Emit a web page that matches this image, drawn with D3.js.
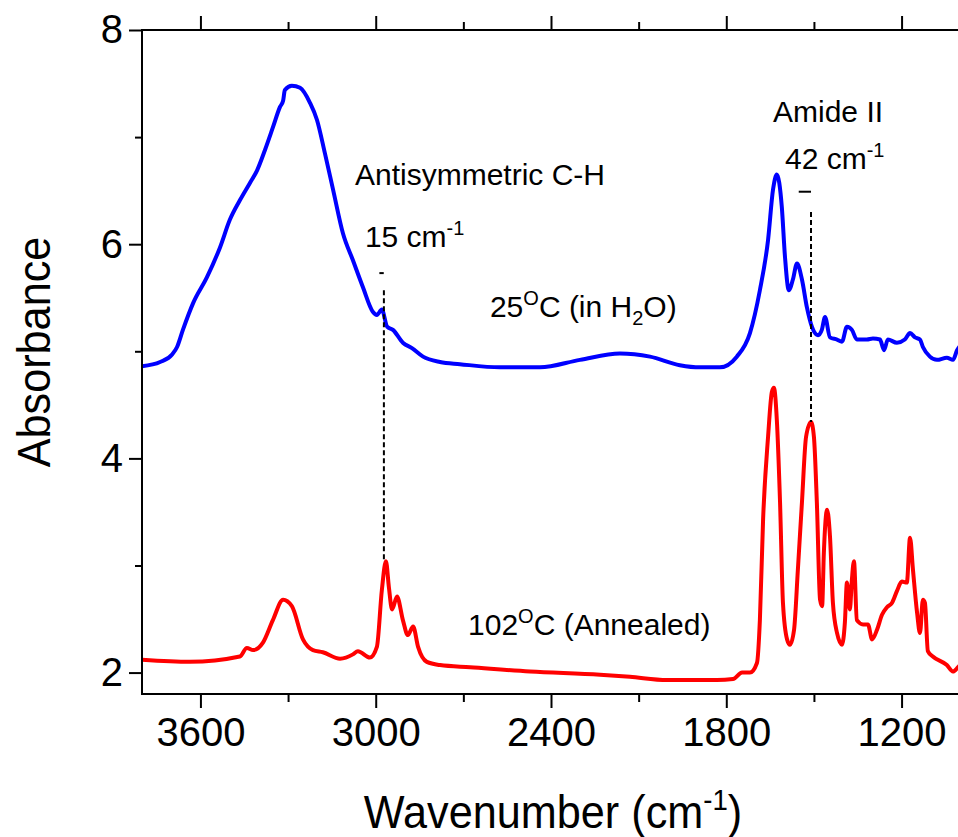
<!DOCTYPE html>
<html>
<head>
<meta charset="utf-8">
<script src="https://cdn.jsdelivr.net/npm/d3@7"></script>
<style>
  body { margin: 0; background: #fff; }
  svg { display: block; }
  text { font-family: "Liberation Sans", Arial, Helvetica, sans-serif; fill: #000; }
</style>
</head>
<body>
<svg id="chart" width="958" height="837"></svg>
<script>
// ---- axis ticks ----
const xMajorTicks = [3600, 3000, 2400, 1800, 1200];
const xMinorTicks = [3300, 2700, 2100, 1500];
const yMajorTicks = [2, 4, 6, 8];
const yMinorTicks = [3, 5, 7];

// ---- 25 °C spectrum (in H2O) ----
const wn25 = [3800, 3738, 3697, 3680, 3660, 3625, 3578, 3533, 3499, 3465, 3431, 3406, 3379, 3352, 3328, 3317, 3311, 3287, 3259, 3225, 3201, 3174, 3146, 3112, 3078, 3044, 3010, 2996, 2979, 2961, 2941, 2907, 2876, 2838, 2780, 2712, 2575, 2438, 2301, 2164, 2061, 1959, 1890, 1822, 1764, 1719, 1685, 1657, 1640, 1627, 1610, 1599, 1586, 1572, 1558, 1541, 1524, 1507, 1486, 1473, 1462, 1445, 1421, 1404, 1387, 1370, 1353, 1319, 1298, 1274, 1260, 1247, 1216, 1189, 1171, 1154, 1137, 1127, 1103, 1079, 1045, 1024, 1010, 1000];
const abs25 = [4.86, 4.90, 4.97, 5.04, 5.20, 5.45, 5.69, 5.97, 6.23, 6.41, 6.57, 6.69, 6.88, 7.09, 7.28, 7.34, 7.44, 7.48, 7.46, 7.32, 7.16, 6.85, 6.51, 6.10, 5.85, 5.60, 5.37, 5.34, 5.39, 5.23, 5.20, 5.08, 5.03, 4.95, 4.90, 4.88, 4.85, 4.85, 4.92, 4.98, 4.95, 4.87, 4.85, 4.85, 4.95, 5.17, 5.57, 6.04, 6.51, 6.65, 6.35, 5.88, 5.57, 5.67, 5.82, 5.67, 5.41, 5.23, 5.15, 5.20, 5.32, 5.13, 5.11, 5.09, 5.23, 5.20, 5.11, 5.11, 5.12, 5.11, 5.01, 5.11, 5.08, 5.11, 5.17, 5.13, 5.11, 5.04, 4.95, 4.92, 4.94, 4.92, 5.01, 5.05];

// ---- 102 °C spectrum (annealed) ----
const wn102 = [3800, 3636, 3465, 3441, 3420, 3386, 3352, 3317, 3287, 3249, 3215, 3181, 3122, 3078, 3061, 3020, 2996, 2979, 2965, 2955, 2944, 2927, 2907, 2890, 2872, 2855, 2825, 2780, 2677, 2472, 2232, 2130, 2003, 1832, 1777, 1746, 1719, 1695, 1685, 1674, 1657, 1644, 1637, 1627, 1616, 1606, 1592, 1582, 1568, 1555, 1541, 1527, 1510, 1500, 1490, 1479, 1472, 1466, 1455, 1445, 1435, 1421, 1404, 1394, 1387, 1377, 1370, 1363, 1353, 1332, 1315, 1301, 1284, 1267, 1250, 1233, 1216, 1199, 1182, 1171, 1161, 1147, 1137, 1127, 1120, 1110, 1093, 1045, 1024, 1007, 1000];
const abs102 = [2.12, 2.10, 2.15, 2.23, 2.21, 2.28, 2.49, 2.68, 2.62, 2.31, 2.21, 2.19, 2.13, 2.17, 2.20, 2.14, 2.24, 2.77, 3.04, 2.80, 2.59, 2.71, 2.49, 2.35, 2.43, 2.24, 2.10, 2.07, 2.05, 2.01, 1.98, 1.96, 1.93, 1.93, 1.94, 2.00, 2.00, 2.09, 2.49, 3.43, 4.20, 4.62, 4.66, 4.36, 3.59, 2.65, 2.31, 2.26, 2.40, 2.96, 3.59, 4.20, 4.34, 4.20, 3.59, 2.68, 2.62, 3.12, 3.52, 3.27, 2.65, 2.37, 2.26, 2.47, 2.84, 2.59, 2.87, 3.04, 2.49, 2.45, 2.45, 2.31, 2.40, 2.54, 2.61, 2.65, 2.76, 2.85, 2.84, 3.26, 2.96, 2.56, 2.37, 2.68, 2.65, 2.20, 2.15, 2.07, 2.01, 2.05, 2.07];

// ---- peak-shift markers: wavenumber, top and bottom of the dashed guide ----
const shiftWn = [2972, 1510];
const shiftTop = [5.57, 6.30];
const shiftBottom = [3.04, 4.34];
// scale bars (cm-1) drawn beside each guide
const barWidthCm = [15, 42];
const barCenterWn = [2980, 1531];
const barLevel = [5.73, 6.49];

const width = 958, height = 837;
const margin = { left: 142, top: 30, bottom: 694 };
const plotRight = 960;

const x = d3.scaleLinear().domain([3800, 1000]).range([margin.left, plotRight]);
const y = d3.scaleLinear().domain([1.8, 8]).range([margin.bottom, margin.top]);

const svg = d3.select("#chart");

svg.append("defs").append("clipPath").attr("id", "plotClip")
  .append("rect").attr("x", margin.left).attr("y", margin.top)
  .attr("width", plotRight - margin.left).attr("height", margin.bottom - margin.top);

// ---- spectra ----
const line = d3.line().x(d => x(d[0])).y(d => y(d[1])).curve(d3.curveMonotoneX);
const plot = svg.append("g").attr("clip-path", "url(#plotClip)");

plot.append("path").datum(d3.zip(wn25, abs25))
  .attr("d", line).attr("fill", "none").attr("stroke", "#0000ff")
  .attr("stroke-width", 4).attr("stroke-linejoin", "round").attr("stroke-linecap", "round");

plot.append("path").datum(d3.zip(wn102, abs102))
  .attr("d", line).attr("fill", "none").attr("stroke", "#ff0000")
  .attr("stroke-width", 4).attr("stroke-linejoin", "round").attr("stroke-linecap", "round");

// ---- dashed guides and scale bars ----
shiftWn.forEach((w, i) => {
  svg.append("line")
    .attr("x1", x(w)).attr("x2", x(w))
    .attr("y1", y(shiftTop[i])).attr("y2", y(shiftBottom[i]))
    .attr("stroke", "#000").attr("stroke-width", 2).attr("stroke-dasharray", "5,3");
  svg.append("line")
    .attr("x1", x(barCenterWn[i] + barWidthCm[i] / 2)).attr("x2", x(barCenterWn[i] - barWidthCm[i] / 2))
    .attr("y1", y(barLevel[i])).attr("y2", y(barLevel[i]))
    .attr("stroke", "#000").attr("stroke-width", 2);
});

// ---- axes ----
const axisColor = "#000";
function styleAxis(g) {
  g.select(".domain").remove();
  g.selectAll(".tick line").attr("stroke", axisColor).attr("stroke-width", 2);
  g.selectAll("text").style("font-size", "40px").attr("fill", "#000");
}

// bottom
svg.append("g").attr("transform", `translate(0,${margin.bottom})`)
  .call(d3.axisBottom(x).tickValues(xMajorTicks).tickSize(14).tickPadding(10).tickFormat(d3.format("d")))
  .call(styleAxis);
svg.append("g").attr("transform", `translate(0,${margin.bottom})`)
  .call(d3.axisBottom(x).tickValues(xMinorTicks).tickSize(8).tickFormat(""))
  .call(styleAxis);
// top
svg.append("g").attr("transform", `translate(0,${margin.top})`)
  .call(d3.axisTop(x).tickValues(xMajorTicks).tickSize(14).tickFormat(""))
  .call(styleAxis);
svg.append("g").attr("transform", `translate(0,${margin.top})`)
  .call(d3.axisTop(x).tickValues(xMinorTicks).tickSize(8).tickFormat(""))
  .call(styleAxis);
// left
svg.append("g").attr("transform", `translate(${margin.left},0)`)
  .call(d3.axisLeft(y).tickValues(yMajorTicks).tickSize(13).tickPadding(6).tickFormat(d3.format("d")))
  .call(styleAxis);
svg.append("g").attr("transform", `translate(${margin.left},0)`)
  .call(d3.axisLeft(y).tickValues(yMinorTicks).tickSize(7).tickFormat(""))
  .call(styleAxis);

// frame lines
svg.append("line").attr("x1", margin.left).attr("x2", margin.left)
  .attr("y1", margin.top).attr("y2", margin.bottom).attr("stroke", axisColor).attr("stroke-width", 2);
svg.append("line").attr("x1", margin.left - 1).attr("x2", plotRight)
  .attr("y1", margin.bottom).attr("y2", margin.bottom).attr("stroke", axisColor).attr("stroke-width", 2);
svg.append("line").attr("x1", margin.left - 1).attr("x2", plotRight)
  .attr("y1", margin.top).attr("y2", margin.top).attr("stroke", axisColor).attr("stroke-width", 2);

// ---- axis titles ----
const xt = svg.append("g").attr("transform", "translate(553,828) scale(0.92,1)")
  .append("text").attr("text-anchor", "middle").style("font-size", "47px");
xt.append("tspan").text("Wavenumber (cm");
xt.append("tspan").attr("dy", -18).style("font-size", "30px").text("-1");
xt.append("tspan").attr("dy", 18).text(")");

svg.append("g").attr("transform", "translate(50,352) rotate(-90) scale(0.92,1)")
  .append("text").attr("text-anchor", "middle").style("font-size", "47px").text("Absorbance");

// ---- annotations ----
function label(wn, ab, parts) {
  const t = svg.append("text").attr("x", x(wn)).attr("y", y(ab)).style("font-size", "30px");
  let shift = 0;
  parts.forEach(p => {
    const target = p.sup ? -12 : p.sub ? 8 : 0;
    t.append("tspan").attr("dy", target - shift)
      .style("font-size", p.sup || p.sub ? "20px" : "30px").text(p.t);
    shift = target;
  });
}
label(3071, 6.55, [{ t: "Antisymmetric C-H" }]);
label(3037, 5.97, [{ t: "15 cm" }, { t: "-1", sup: true }]);
label(2609, 5.32, [{ t: "25" }, { t: "O", sup: true }, { t: "C (in H" }, { t: "2", sub: true }, { t: "O)" }]);
label(2684, 2.35, [{ t: "102" }, { t: "O", sup: true }, { t: "C (Annealed)" }]);
label(1640, 7.14, [{ t: "Amide II" }]);
label(1599, 6.70, [{ t: "42 cm" }, { t: "-1", sup: true }]);
</script>
</body>
</html>
